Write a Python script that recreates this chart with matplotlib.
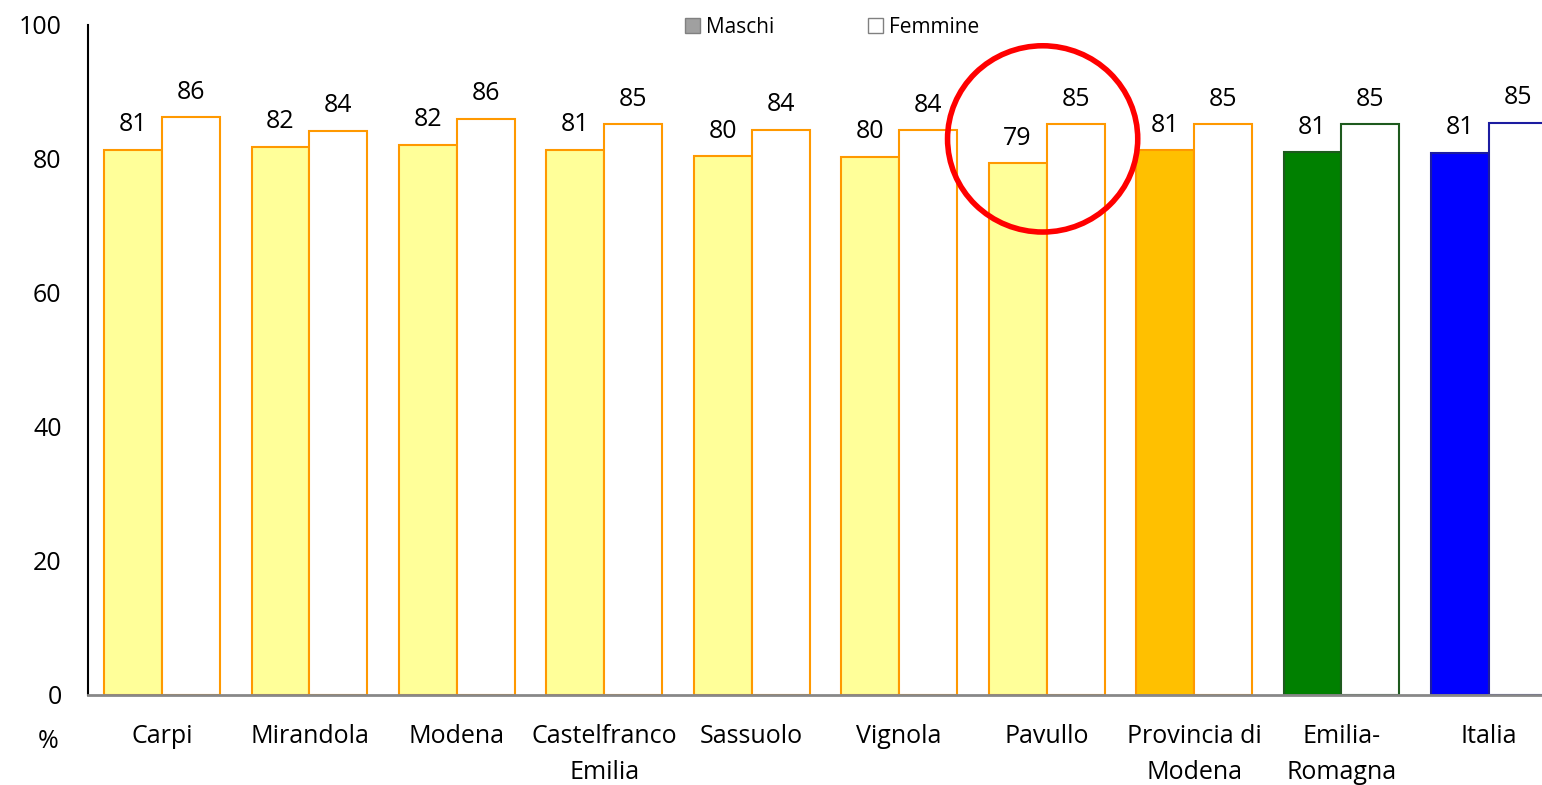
import matplotlib.pyplot as plt
from matplotlib.patches import Ellipse, Patch
import numpy as np

plt.rcParams['font.family'] = ['Open Sans', 'DejaVu Sans']

categories = ["Carpi", "Mirandola", "Modena", "Castelfranco\nEmilia", "Sassuolo",
              "Vignola", "Pavullo", "Provincia di\nModena", "Emilia-\nRomagna", "Italia"]
maschi = [81.4, 81.8, 82.1, 81.4, 80.4, 80.3, 79.4, 81.3, 81.0, 80.9]
femmine = [86.2, 84.2, 86.0, 85.2, 84.4, 84.3, 85.2, 85.2, 85.2, 85.4]

fill_m = ["#FFFF99"] * 7 + ["#FFC000", "#008000", "#0000FF"]
edge_c = ["#FF9900"] * 8 + ["#1E5A1E", "#1C1CA0"]

fig = plt.figure(figsize=(15.42, 7.85), dpi=100)
ax = fig.add_axes([88 / 1542, 1 - 695 / 785, 1 - 88 / 1542, (695 - 25) / 785])

x = np.arange(len(categories))
w = 0.393
ax.bar(x - w / 2, maschi, w, color=fill_m, edgecolor=edge_c, linewidth=1.5)
ax.bar(x + w / 2, femmine, w, color="white", edgecolor=edge_c, linewidth=1.5)

for i in range(len(categories)):
    ax.annotate(f"{maschi[i]:.0f}", (x[i] - w / 2, maschi[i]), xytext=(0, 9),
                textcoords="offset points", ha="center", va="bottom", fontsize=18)
    ax.annotate(f"{femmine[i]:.0f}", (x[i] + w / 2, femmine[i]), xytext=(0, 9),
                textcoords="offset points", ha="center", va="bottom", fontsize=18)

ax.set_xlim(-0.502, 9.36)
ax.set_ylim(0, 100)
ax.set_yticks(range(0, 101, 20))
ax.set_xticks(x)
ax.set_xticklabels(categories, fontsize=18, linespacing=1.55)
ax.tick_params(axis="y", length=0, pad=19, labelsize=18)
ax.tick_params(axis="x", length=0, pad=21)
for s in ["top", "right"]:
    ax.spines[s].set_visible(False)
ax.spines["left"].set_color("black")
ax.spines["left"].set_linewidth(1.5)
ax.spines["bottom"].set_color("#888888")
ax.spines["bottom"].set_linewidth(2)

fig.text(48 / 1542, 1 - 742 / 785, "%", fontsize=18, ha="center", va="center")

# red circle around Pavullo
ax.add_patch(Ellipse((6 - 0.027, 83.0), 1.29, 27.8, fill=False, edgecolor="red",
                     linewidth=4, clip_on=False, zorder=5))

handles = [Patch(facecolor="#A0A0A0", edgecolor="#808080"),
           Patch(facecolor="white", edgecolor="#808080")]
ax.legend(handles, ["Maschi", "Femmine"], loc="upper center", bbox_to_anchor=(0.512, 1.04),
          ncol=2, frameon=False, fontsize=15, handlelength=0.7, handleheight=0.7,
          handletextpad=0.3, columnspacing=4.5)

fig.savefig("out.png", dpi=100)
